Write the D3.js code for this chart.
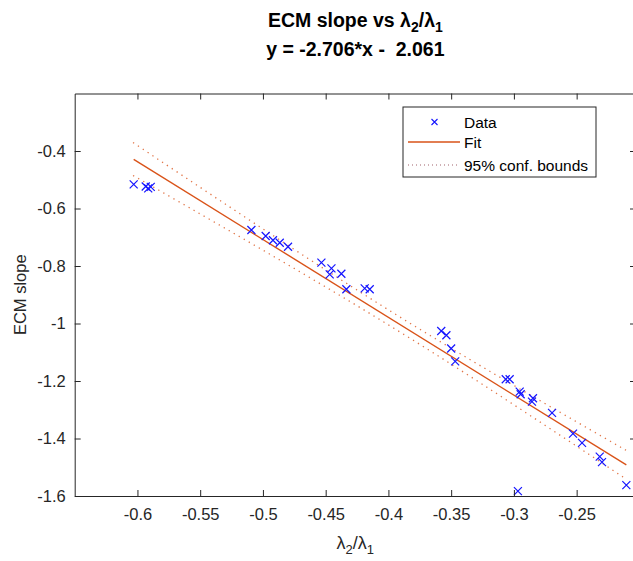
<!DOCTYPE html>
<html>
<head>
<meta charset="utf-8">
<script src="https://cdn.jsdelivr.net/npm/d3@7"></script>
<style>
  body { margin: 0; background: #ffffff; }
  svg { display: block; font-family: Helvetica, Arial, "Liberation Sans", sans-serif; }
  .axis path, .axis line { stroke: #262626; stroke-width: 1; }
  .axis text { fill: #262626; font-size: 16.5px; }
</style>
</head>
<body>
<svg id="chart" width="633" height="561"></svg>
<script>
// axis limits and ticks
var xDomain = [-0.65, -0.2027];
var yDomain = [-1.6, -0.2];
var xTickValues = [-0.6, -0.55, -0.5, -0.45, -0.4, -0.35, -0.3, -0.25];
var yTickValues = [-1.6, -1.4, -1.2, -1, -0.8, -0.6, -0.4];

// data points (lambda2/lambda1, ECM slope)
var dataX = [-0.603, -0.5934, -0.5914, -0.5894,
  -0.5092, -0.4978, -0.492, -0.4866, -0.48,
  -0.4534, -0.4454, -0.4468, -0.4375, -0.4335, -0.4189, -0.4149,
  -0.3579, -0.3538, -0.35, -0.3468,
  -0.3065, -0.3034, -0.2954, -0.2946, -0.2848, -0.2856, -0.2696,
  -0.2529, -0.2457, -0.2316, -0.2298, -0.2104, -0.2968];
var dataY = [-0.516, -0.5235, -0.53, -0.525,
  -0.6748, -0.6957, -0.7106, -0.719, -0.733,
  -0.7885, -0.808, -0.8289, -0.8268, -0.881, -0.8776, -0.881,
  -1.0261, -1.041, -1.087, -1.132,
  -1.194, -1.194, -1.237, -1.246, -1.26, -1.272, -1.311,
  -1.383, -1.415, -1.463, -1.482, -1.562, -1.583];

// fit coefficients from the title: y = p1*x + p2
var fitCoef = [-2.706, -2.061];

// 95% confidence bounds
var confX = [-0.6035, -0.55, -0.5, -0.45, -0.4, -0.35, -0.3, -0.25, -0.2104];
var confUpper = [-0.3707, -0.5265, -0.671, -0.8136, -0.9525, -1.0862, -1.2155, -1.3422, -1.4416];
var confLower = [-0.4851, -0.6189, -0.745, -0.873, -1.0047, -1.1416, -1.2829, -1.4268, -1.5418];

var legendLabels = ["Data", "Fit", "95% conf. bounds"];

var fitColour = "#d95319";
var dataColour = "#1414ff";

/*
  NAME: drawChart
  DESCRIPTION: builds scales, axes, data marks, fit line, bounds and legend
*/
function drawChart() {
  var svg = d3.select("#chart");

  var plot = { left: 74.7, top: 93.5, right: 636, bottom: 496 };

  var x = d3.scaleLinear().domain(xDomain).range([plot.left, plot.right]);
  var y = d3.scaleLinear().domain(yDomain).range([plot.bottom, plot.top]);

  svg.append("rect")
    .attr("width", 633)
    .attr("height", 561)
    .attr("fill", "#ffffff");

  // fit line across the data range
  var fitRange = d3.extent(dataX);
  svg.append("line")
    .attr("x1", x(fitRange[0]))
    .attr("y1", y(fitCoef[0] * fitRange[0] + fitCoef[1]))
    .attr("x2", x(fitRange[1]))
    .attr("y2", y(fitCoef[0] * fitRange[1] + fitCoef[1]))
    .attr("stroke", fitColour)
    .attr("stroke-width", 1.4);

  // dotted confidence bounds
  var boundLine = d3.line()
    .x(function (d) { return x(d[0]); })
    .y(function (d) { return y(d[1]); })
    .curve(d3.curveNatural);

  [confUpper, confLower].forEach(function (b) {
    svg.append("path")
      .attr("d", boundLine(d3.zip(confX, b)))
      .attr("fill", "none")
      .attr("stroke", fitColour)
      .attr("stroke-opacity", 0.8)
      .attr("stroke-width", 1.3)
      .attr("stroke-dasharray", "1.3,4.5");
  });

  // data markers
  var cross = "M-4,-4L4,4M-4,4L4,-4";
  svg.append("g")
    .selectAll("path")
    .data(d3.zip(dataX, dataY))
    .join("path")
    .attr("transform", function (d) { return "translate(" + x(d[0]) + "," + y(d[1]) + ")"; })
    .attr("d", cross)
    .attr("fill", "none")
    .attr("stroke", dataColour)
    .attr("stroke-width", 1.2);

  // axes, ticks pointing inward on all four sides
  var fmt = function (d) { return String(d); };

  svg.append("g")
    .attr("class", "axis")
    .attr("transform", "translate(0," + plot.bottom + ")")
    .call(d3.axisBottom(x).tickValues(xTickValues).tickFormat(fmt)
      .tickSizeInner(-6).tickSizeOuter(0).tickPadding(12));

  svg.append("g")
    .attr("class", "axis")
    .attr("transform", "translate(0," + plot.top + ")")
    .call(d3.axisTop(x).tickValues(xTickValues).tickFormat("")
      .tickSizeInner(-6).tickSizeOuter(0));

  svg.append("g")
    .attr("class", "axis")
    .attr("transform", "translate(" + plot.left + ",0)")
    .call(d3.axisLeft(y).tickValues(yTickValues).tickFormat(fmt)
      .tickSizeInner(-6).tickSizeOuter(0).tickPadding(9));

  svg.append("g")
    .attr("class", "axis")
    .attr("transform", "translate(" + plot.right + ",0)")
    .call(d3.axisRight(y).tickValues(yTickValues).tickFormat("")
      .tickSizeInner(-6).tickSizeOuter(0));

  svg.selectAll(".axis .domain").attr("stroke", "#262626");

  // titles
  var title = svg.append("text")
    .attr("x", (plot.left + plot.right) / 2)
    .attr("y", 27)
    .attr("text-anchor", "middle")
    .attr("font-size", 19.5)
    .attr("font-weight", "bold")
    .attr("fill", "#000000");
  title.append("tspan").text("ECM slope vs \u03bb");
  title.append("tspan").attr("font-size", 14).attr("dy", 5).text("2");
  title.append("tspan").attr("dy", -5).text("/\u03bb");
  title.append("tspan").attr("font-size", 14).attr("dy", 5).text("1");

  svg.append("text")
    .attr("x", (plot.left + plot.right) / 2)
    .attr("y", 56)
    .attr("text-anchor", "middle")
    .attr("font-size", 19.5)
    .attr("font-weight", "bold")
    .attr("fill", "#000000")
    .attr("xml:space", "preserve")
    .text("y = -2.706*x -  2.061");

  // axis labels
  var xLabel = svg.append("text")
    .attr("x", (plot.left + plot.right) / 2)
    .attr("y", 549)
    .attr("text-anchor", "middle")
    .attr("font-size", 18)
    .attr("fill", "#262626");
  xLabel.append("tspan").text("\u03bb");
  xLabel.append("tspan").attr("font-size", 13).attr("dy", 5).text("2");
  xLabel.append("tspan").attr("dy", -5).text("/\u03bb");
  xLabel.append("tspan").attr("font-size", 13).attr("dy", 5).text("1");

  svg.append("text")
    .attr("transform", "translate(26," + (plot.top + plot.bottom) / 2 + ") rotate(-90)")
    .attr("text-anchor", "middle")
    .attr("font-size", 16.5)
    .attr("fill", "#262626")
    .text("ECM slope");

  drawLegend(svg);
} // end function drawChart

/*
  NAME: drawLegend
  DESCRIPTION: boxed legend in the upper right corner
*/
function drawLegend(svg) {
  var lg = svg.append("g").attr("transform", "translate(403,107)");

  lg.append("rect")
    .attr("width", 193)
    .attr("height", 70)
    .attr("fill", "#ffffff")
    .attr("stroke", "#262626")
    .attr("stroke-width", 1);

  var rowY = [15, 35, 58];

  lg.append("path")
    .attr("transform", "translate(31.5," + rowY[0] + ")")
    .attr("d", "M-3,-3L3,3M-3,3L3,-3")
    .attr("stroke", dataColour)
    .attr("stroke-width", 1.1);

  lg.append("line")
    .attr("x1", 5).attr("x2", 57)
    .attr("y1", rowY[1]).attr("y2", rowY[1])
    .attr("stroke", fitColour)
    .attr("stroke-width", 1.4);

  lg.append("line")
    .attr("x1", 5).attr("x2", 57)
    .attr("y1", rowY[2]).attr("y2", rowY[2])
    .attr("stroke", "#a0606a")
    .attr("stroke-width", 1.1)
    .attr("stroke-dasharray", "1,3");

  lg.selectAll("text.lg")
    .data(legendLabels)
    .join("text")
    .attr("class", "lg")
    .attr("x", 61)
    .attr("y", function (d, i) { return rowY[i] + 5.5; })
    .attr("font-size", 15.5)
    .attr("fill", "#000000")
    .text(function (d) { return d; });
} // end function drawLegend

drawChart();
</script>
</body>
</html>
